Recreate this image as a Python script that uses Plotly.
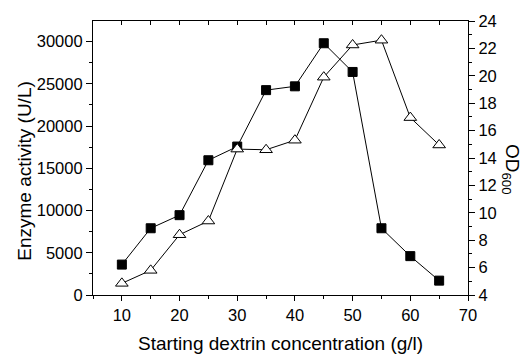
import plotly.graph_objects as go

conc = [10, 15, 20, 25, 30, 35, 40, 45, 50, 55, 60, 65]
enzyme_activity = [3600, 7900, 9450, 15950, 17570, 24250, 24700, 29800, 26400, 7900, 4600, 1700]
od600 = [4.85, 5.8, 8.4, 9.4, 14.65, 14.6, 15.3, 19.9, 22.25, 22.6, 16.95, 14.95]

x_ticks = [10, 20, 30, 40, 50, 60, 70]
y1_ticks = [0, 5000, 10000, 15000, 20000, 25000, 30000]
y1_labels = ["0", "5000", "10000", "15000", "20000", "25000", "30000"]
y2_ticks = [4, 6, 8, 10, 12, 14, 16, 18, 20, 22, 24]

FONT = "Arial, Liberation Sans, sans-serif"

fig = go.Figure()
fig.add_trace(go.Scatter(
    x=conc, y=enzyme_activity, mode="lines+markers", yaxis="y",
    line=dict(color="black", width=1),
    marker=dict(symbol="square", size=9, color="black", line=dict(color="black", width=1)),
    showlegend=False))
fig.add_trace(go.Scatter(
    x=conc, y=od600, mode="lines+markers", yaxis="y2",
    line=dict(color="black", width=1),
    marker=dict(symbol="triangle-up", size=11, color="white", line=dict(color="black", width=1)),
    showlegend=False))
fig.add_trace(go.Scatter(x=[10], y=[0], xaxis="x2", mode="markers",
                         marker=dict(opacity=0), hoverinfo="skip", showlegend=False))

axis_common = dict(showgrid=False, zeroline=False, showline=True, linecolor="black", linewidth=1.2,
                   tickcolor="black", tickfont=dict(family=FONT, size=16.5, color="black"))

fig.update_layout(
    width=523, height=356,
    margin=dict(l=93, r=55, t=15, b=61),
    paper_bgcolor="white", plot_bgcolor="white",
    xaxis=dict(range=[5, 70], tickvals=x_ticks, ticks="outside", ticklen=5,
               minor=dict(ticks="outside", ticklen=3, dtick=5, tick0=5, tickcolor="black"),
               **axis_common),
    xaxis2=dict(range=[5, 70], overlaying="x", side="top", tickvals=list(range(10, 70, 5)),
                ticks="inside", ticklen=4, showticklabels=False, **axis_common),
    yaxis=dict(range=[0, 32432], tickvals=y1_ticks, ticktext=y1_labels, ticks="outside", ticklen=6,
               minor=dict(ticks="outside", ticklen=3, dtick=2500, tick0=0, tickcolor="black"),
               **axis_common),
    yaxis2=dict(range=[4, 24], overlaying="y", side="right", tickvals=y2_ticks, ticks="outside",
                ticklen=6, minor=dict(ticks="outside", ticklen=3, dtick=1, tick0=0, tickcolor="black"),
                **axis_common),
    annotations=[
        dict(text="Starting dextrin concentration (g/l)", xref="paper", yref="paper",
             x=0.5, y=0, yshift=-48, xanchor="center", yanchor="middle", showarrow=False,
             font=dict(family=FONT, size=19, color="black")),
        dict(text="Enzyme activity (U/L)", xref="paper", yref="paper",
             x=0, xshift=-68, y=0.45, xanchor="center", yanchor="middle", textangle=-90,
             showarrow=False, font=dict(family=FONT, size=19, color="black")),
        dict(text="OD<sub>600</sub>", xref="paper", yref="paper",
             x=1, xshift=43, y=0.46, xanchor="center", yanchor="middle", textangle=90,
             showarrow=False, font=dict(family=FONT, size=19, color="black")),
    ],
)

fig.write_html("out.html")
